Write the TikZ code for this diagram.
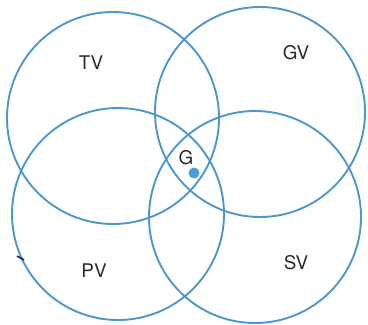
\documentclass[tikz,border=0pt]{standalone}
\usepackage{fontspec}
\setmainfont{TeX Gyre Heros}
\usepackage{tikz}
\usetikzlibrary{positioning}
\usepackage{xcolor}
\definecolor{vblue}{HTML}{4D97C9}
\definecolor{vdot}{HTML}{4A9BDD}
\definecolor{vtext}{HTML}{2A2A2A}
\definecolor{vpen}{HTML}{1F2A5A}

\begin{document}
\begin{tikzpicture}[x=0.025cm,y=-0.025cm,font=\fontsize{13.4}{16}\selectfont]
\useasboundingbox (0,0) rectangle (368,324);
% the four value circles
\draw[vblue,line width=1.35pt] (113,118) circle[radius=106];
\draw[vblue,line width=1.35pt] (260,112) circle[radius=105];
\draw[vblue,line width=1.35pt] (118,214) circle[radius=106];
\draw[vblue,line width=1.35pt] (255,217) circle[radius=106];
% labels
\node[vtext] (tv) at (91,63) {TV};
\node[vtext] (gv) at (296,53) {GV};
\node[vtext] (pv) at (94,271) {PV};
\node[vtext] (sv) at (296,263) {SV};
% the common core
\node[vtext] (g) at (186,158) {G};
\fill[vdot] (194,173) circle[radius=5.5];
% stray pen mark on the left
\draw[vpen,line width=1.2pt] (17,256) -- (24,260);
\end{tikzpicture}
\end{document}
